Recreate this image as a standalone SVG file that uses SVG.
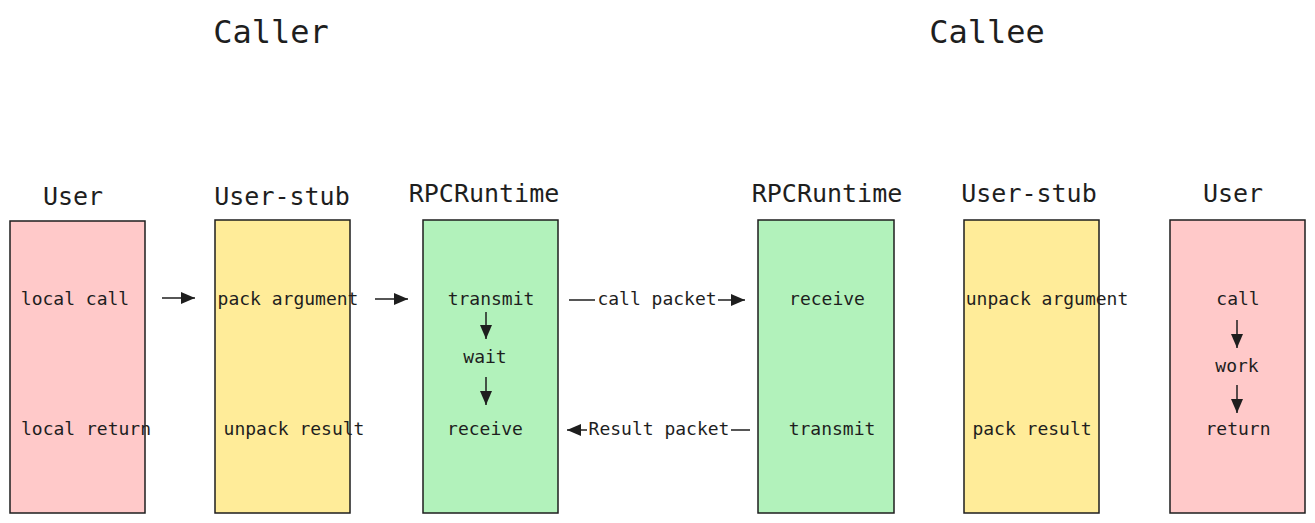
<svg xmlns="http://www.w3.org/2000/svg" width="1315" height="523" viewBox="0 0 1315 523">
<defs>
<style>
text{font-family:"DejaVu Sans Mono","Liberation Mono",monospace;fill:#1e1e1e;text-anchor:middle}
.title{font-size:32px}
.head{font-size:25px}
.lbl{font-size:18px}
.box{stroke:#1e1e1e;stroke-width:1.5}
.user{fill:#ffc9c9}
.stub{fill:#ffec99}
.rt{fill:#b2f2bb}
.ln{stroke:#1e1e1e;stroke-width:1.5;fill:none}
</style>
<marker id="ah" viewBox="0 0 14 12" refX="14" refY="6" markerWidth="14" markerHeight="12" markerUnits="userSpaceOnUse" orient="auto">
<path d="M0,0 L14,6 L0,12 Z" fill="#1e1e1e"/>
</marker>
</defs>
<rect width="1315" height="523" fill="#ffffff"/>
<text class="title" x="271" y="43">Caller</text>
<text class="title" x="987" y="43">Callee</text>

<g id="caller-user">
<text class="head" x="73" y="205">User</text>
<rect class="box user" x="10" y="221" width="135" height="292"/>
<text class="lbl" x="75" y="305">local call</text>
<text class="lbl" x="86" y="435">local return</text>
</g>
<g id="caller-stub">
<text class="head" x="282" y="205">User-stub</text>
<rect class="box stub" x="215" y="220" width="135" height="293"/>
<text class="lbl" x="288" y="305">pack argument</text>
<text class="lbl" x="294" y="435">unpack result</text>
</g>
<g id="caller-runtime">
<text class="head" x="484" y="202">RPCRuntime</text>
<rect class="box rt" x="423" y="220" width="135" height="293"/>
<text class="lbl" x="491" y="305">transmit</text>
<text class="lbl" x="485" y="363">wait</text>
<text class="lbl" x="485" y="435">receive</text>
</g>
<g id="callee-runtime">
<text class="head" x="827" y="202">RPCRuntime</text>
<rect class="box rt" x="758" y="220" width="136" height="293"/>
<text class="lbl" x="827" y="305">receive</text>
<text class="lbl" x="832" y="435">transmit</text>
</g>
<g id="callee-stub">
<text class="head" x="1029" y="202">User-stub</text>
<rect class="box stub" x="964" y="220" width="135" height="293"/>
<text class="lbl" x="1047" y="305">unpack argument</text>
<text class="lbl" x="1032" y="435">pack result</text>
</g>
<g id="callee-user">
<text class="head" x="1233" y="202">User</text>
<rect class="box user" x="1170" y="220" width="135" height="293"/>
<text class="lbl" x="1238" y="305">call</text>
<text class="lbl" x="1237" y="372">work</text>
<text class="lbl" x="1238" y="435">return</text>
</g>

<g id="connectors">
<line class="ln" x1="162" y1="298" x2="195" y2="298" marker-end="url(#ah)"/>
<line class="ln" x1="375" y1="299" x2="408" y2="299" marker-end="url(#ah)"/>
<line class="ln" x1="486" y1="312" x2="486" y2="339" marker-end="url(#ah)"/>
<line class="ln" x1="486" y1="377" x2="486" y2="405" marker-end="url(#ah)"/>
<line class="ln" x1="1237" y1="320" x2="1237" y2="348" marker-end="url(#ah)"/>
<line class="ln" x1="1237" y1="385" x2="1237" y2="413" marker-end="url(#ah)"/>
<line class="ln" x1="569" y1="300" x2="595" y2="300"/>
<line class="ln" x1="718" y1="300" x2="745" y2="300" marker-end="url(#ah)"/>
<text class="lbl" x="657" y="305">call packet</text>
<line class="ln" x1="587" y1="430" x2="567" y2="430" marker-end="url(#ah)"/>
<line class="ln" x1="731" y1="430" x2="750" y2="430"/>
<text class="lbl" x="659" y="435">Result packet</text>
</g>
</svg>
